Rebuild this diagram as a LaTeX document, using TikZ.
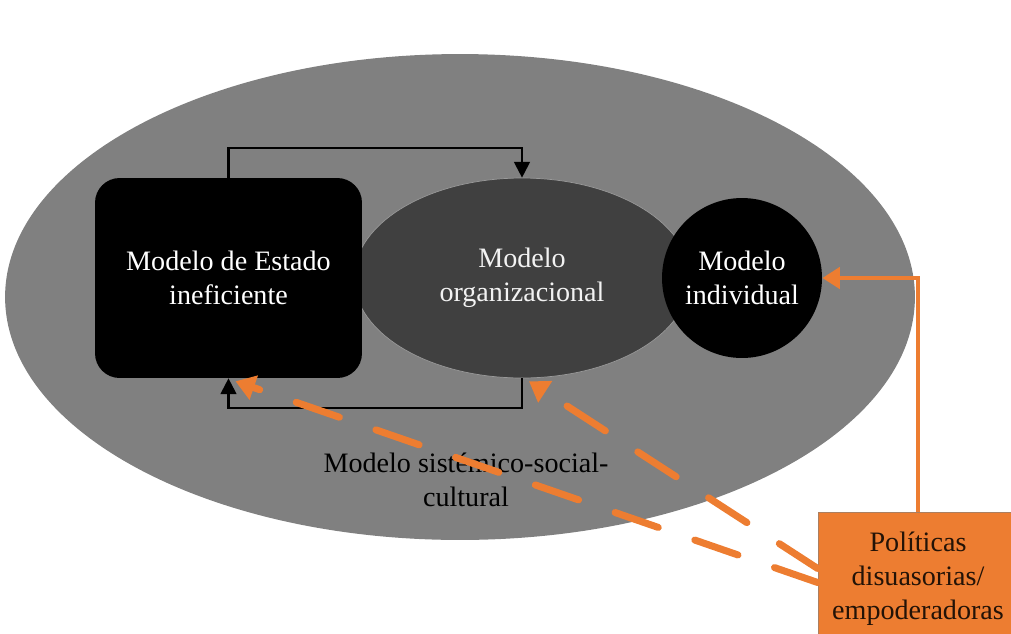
\documentclass[tikz,border=0pt]{standalone}
\usepackage{fontspec}
\setmainfont{Liberation Serif}
\usetikzlibrary{arrows.meta,shapes.geometric,positioning}
\definecolor{sysgray}{RGB}{128,128,128}
\definecolor{orggray}{RGB}{64,64,64}
\definecolor{polorange}{RGB}{237,125,49}
\tikzset{
    modelo/.style={
                text centered,
                align=center,
                font=\fontsize{16}{19.5}\selectfont,
                inner sep=0pt
            },
        estado/.style={
                modelo,
                fill=black,
                text=white,
                rounded corners=14pt,
                minimum width=5.34cm,
                minimum height=4cm
            },
        organizacion/.style={
                modelo,
                ellipse,
                fill=orggray,
                draw=gray!80,
                thin,
                text=gray!10,
                minimum width=6.72cm,
                minimum height=4cm
            },
        individuo/.style={
                modelo,
                circle,
                fill=black,
                text=white,
                minimum size=3.2cm
            },
        politica/.style={
                modelo,
                fill=polorange,
                draw=gray!60!polorange,
                text=black!85!polorange,
                minimum width=4cm,
                minimum height=2.66cm
            },
        flujo/.style={
                draw=black,
                line width=1.2pt,
                -{Triangle[width=9pt,length=9pt]}
            },
        refuerzo/.style={
                draw=polorange,
                line width=2.5pt,
                -{Triangle[width=12pt,length=10pt]}
            },
        incidencia/.style={
                refuerzo,
                line width=4pt,
                line cap=round,
                dash pattern=on 26pt off 22pt,
                -{Triangle[width=14pt,length=11pt]}
            },
}

\begin{document}
\begin{tikzpicture}[x=0.02cm,y=-0.02cm]
  \clip (0,0) rectangle (1011,633);
  \useasboundingbox (0,0) rectangle (1011,633);
  % Sistema
  \node[ellipse,fill=sysgray,minimum width=18.2cm,minimum height=9.72cm,inner sep=0pt] (sis) at (460,297) {};
  \node[modelo,text=black] (sistxt) at (466,480) {Modelo sistémico-social-\\cultural};
  % Modelos
  \node[organizacion] (org) at (522,278) {Modelo\\organizacional};
  \node[estado] (est) at (228.5,278) {Modelo de Estado\\ineficiente};
  \node[individuo] (ind) at (742,278) {Modelo\\individual};
  % Relaciones
  \draw[flujo] (est.north) -- ++(0,-30) -| (org.north);
  \draw[flujo] (org.south) -- ++(0,30) -| (est.south);
  % Politicas
  \node[politica] (pol) at (918,578.5) {Políticas\\disuasorias/\\empoderadoras};
  \draw[refuerzo] (pol.north) |- (ind.east);
  \draw[incidencia] ([yshift=-0.08cm]pol.west) -- ([xshift=0.14cm,yshift=-0.06cm]est.south);
  \draw[incidencia] ([yshift=0.2cm]pol.west) -- ([xshift=0.14cm,yshift=-0.06cm]org.south);
\end{tikzpicture}
\end{document}
